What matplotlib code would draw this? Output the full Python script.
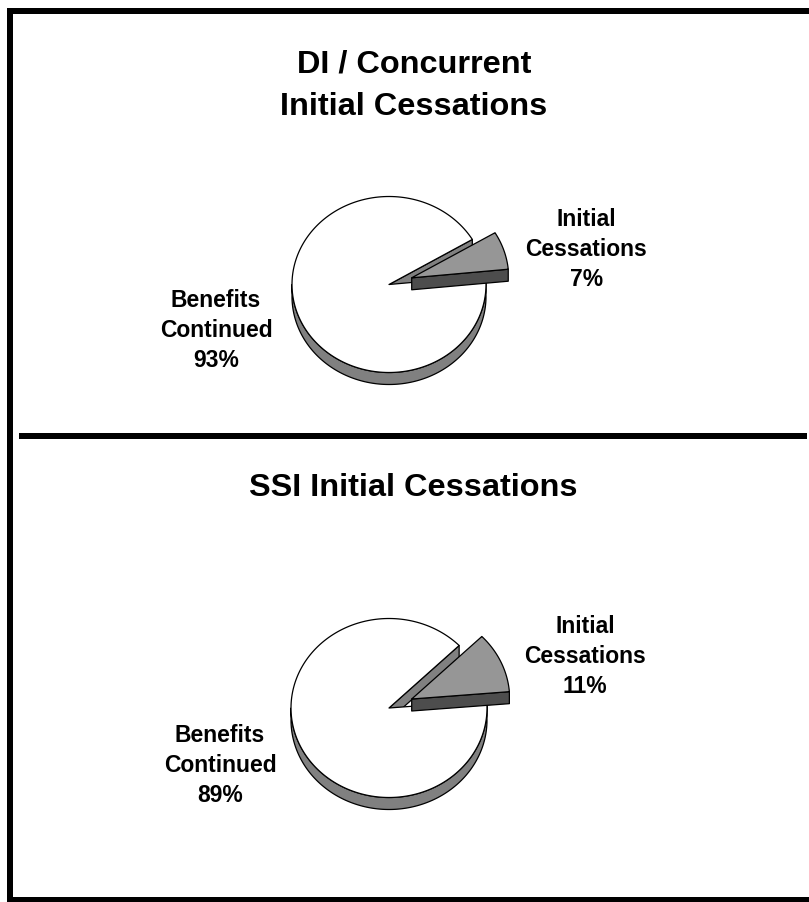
import matplotlib
matplotlib.use('Agg')
import matplotlib.pyplot as plt
import numpy as np

plt.rcParams['font.family'] = ['Liberation Sans', 'DejaVu Sans']

W, H = 809, 903

top_title = ['DI / Concurrent', 'Initial Cessations']
top_labels = [['Initial', 'Cessations', '7%'], ['Benefits', 'Continued', '93%']]
top_values = [7, 93]

bottom_title = ['SSI Initial Cessations']
bottom_labels = [['Initial', 'Cessations', '11%'], ['Benefits', 'Continued', '89%']]
bottom_values = [11, 89]

TOP_COL = '#969696'
WALL_COL = '#808080'
FRONT_COL = '#4d4d4d'
LW = 0.9


def arc(cx, cy, rx, ry, a1, a2):
    t = np.radians(np.linspace(a1, a2, 200))
    return np.column_stack([cx + rx * np.cos(t), cy - ry * np.sin(t)])


def poly(ax, pts, fc, z):
    ax.fill(pts[:, 0], pts[:, 1], fc=fc, ec='black', lw=LW, zorder=z, joinstyle='round')


def draw_pie(ax, values, cx, cy, rx, ry, start, off, depth=12):
    sweep = values[0] / sum(values) * 360
    end = start + sweep
    down = np.array([0, depth])

    # outer wall of the big slice, only the front half shows
    front = arc(cx, cy, rx, ry, 180, 360 + start)
    poly(ax, np.vstack([front, front[::-1] + down]), WALL_COL, 2)

    # cut face seen through the gap
    p = arc(cx, cy, rx, ry, end, end)[0]
    c = np.array([cx, cy])
    poly(ax, np.array([c, p, p + down, c + down]), WALL_COL, 3)

    # big slice top
    outer = arc(cx, cy, rx, ry, end, 360 + start)
    poly(ax, np.vstack([c, outer]), 'white', 4)

    # pulled out slice
    c2 = c + np.array(off)
    q = arc(c2[0], c2[1], rx, ry, start, start)[0]
    poly(ax, np.array([c2, q, q + down, c2 + down]), FRONT_COL, 5)
    poly(ax, np.vstack([c2, arc(c2[0], c2[1], rx, ry, start, end)]), TOP_COL, 6)


def put_lines(ax, lines, x, y, step, size):
    for i, s in enumerate(lines):
        ax.text(x, y + i * step, s, ha='center', va='baseline', fontsize=size, fontweight='bold')


fig = plt.figure(figsize=(W / 100, H / 100), dpi=100)
ax = fig.add_axes([0, 0, 1, 1])
ax.set_xlim(0, W)
ax.set_ylim(H, 0)
ax.axis('off')

# frame
ax.fill([7, 13, 13, 7], [9, 9, 903, 903], color='black', lw=0)
ax.fill([7, 809, 809, 7], [9, 9, 15, 15], color='black', lw=0)
ax.fill([19, 807, 807, 19], [434, 434, 440, 440], color='black', lw=0)
ax.fill([7, 809, 809, 7], [898, 898, 903, 903], color='black', lw=0)

draw_pie(ax, top_values, 389, 285.5, 97, 88, 5.6, (22.7, -6.7))
draw_pie(ax, bottom_values, 389, 709, 98, 89.5, 4.7, (22.7, -9))

put_lines(ax, top_title, 414, 72.5, 42.3, 23.4)
put_lines(ax, bottom_title, 413, 496, 0, 23.4)

put_lines(ax, top_labels[0], 586.5, 226, 30, 16.5)
put_lines(ax, top_labels[1], 216, 307, 30, 16.5)
put_lines(ax, bottom_labels[0], 585, 633, 30, 16.5)
put_lines(ax, bottom_labels[1], 220, 742, 30, 16.5)

fig.savefig('out.png', dpi=100)
